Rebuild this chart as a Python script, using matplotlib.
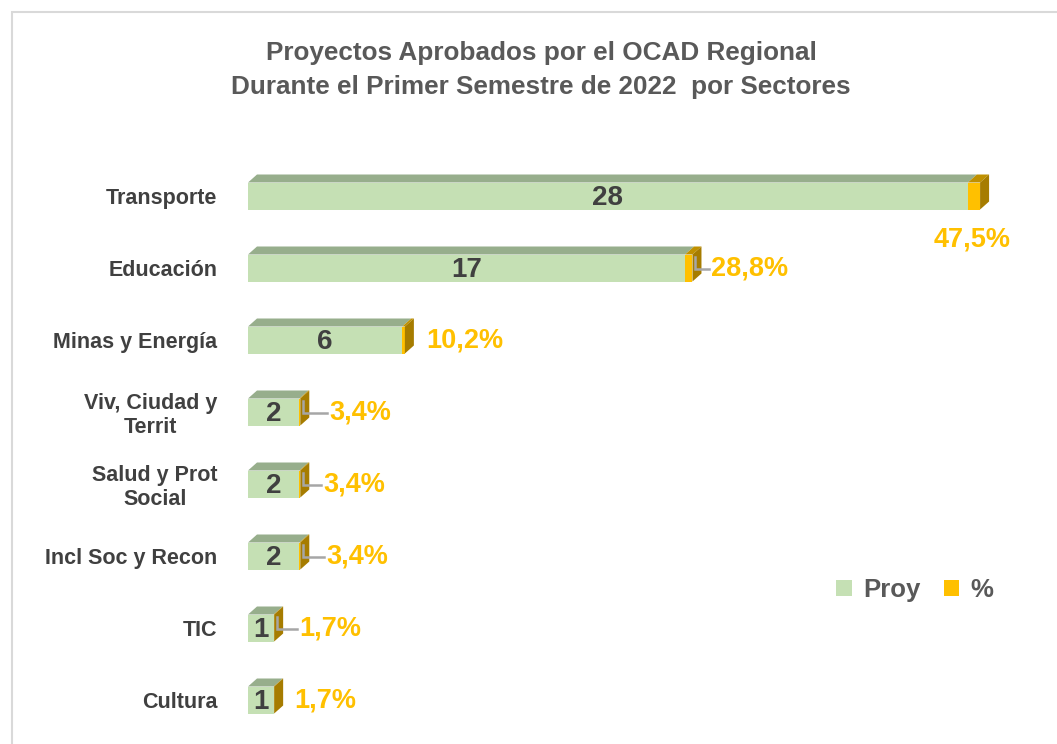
import matplotlib
matplotlib.use('Agg')
import matplotlib.pyplot as plt
from matplotlib.patches import Polygon, Rectangle, Patch
from matplotlib import font_manager

categories = ['Transporte', 'Educación', 'Minas y Energía', 'Viv, Ciudad y\nTerrit',
              'Salud y Prot\nSocial', 'Incl Soc y Recon', 'TIC', 'Cultura']
proy = [28, 17, 6, 2, 2, 2, 1, 1]
pct = [47.5, 28.8, 10.2, 3.4, 3.4, 3.4, 1.7, 1.7]
title = 'Proyectos Aprobados por el OCAD Regional\nDurante el Primer Semestre de 2022  por Sectores'

names = {f.name for f in font_manager.fontManager.ttflist}
FONT = 'Liberation Sans Narrow' if 'Liberation Sans Narrow' in names else 'Liberation Sans'
plt.rcParams['font.family'] = [FONT, 'DejaVu Sans']

GREEN = '#C5E0B4'
GREEN_TOP = '#97AE8C'
ORANGE = '#FFC000'
ORANGE_TOP = '#BF9000'
ORANGE_SIDE = '#A67C00'
DARK = '#404040'
GRAY = '#595959'

W, H = 1057, 744
fig = plt.figure(figsize=(W / 100, H / 100), dpi=100)

# frame
fig.patches.append(Rectangle((12 / W, -0.05), 1.2, 1 - 12 / H + 0.05, transform=fig.transFigure,
                             fill=False, edgecolor='#D9D9D9', linewidth=1.5))

ax_left, ax_right, ax_top, ax_bot = 248, 1045, 160, 736
ax = fig.add_axes([ax_left / W, 1 - ax_bot / H, (ax_right - ax_left) / W, (ax_bot - ax_top) / H])
XMAX = 31
n = len(categories)
ax.set_xlim(0, XMAX)
ax.set_ylim(n - 0.5, -0.5)
ppx = (ax_right - ax_left) / XMAX
ppy = (ax_bot - ax_top) / n
dx = 9 / ppx
dy = 8 / ppy
h = 27 / ppy

seg = [p / 100 for p in pct]
ax.barh(range(n), proy, height=h, color=GREEN, zorder=2)
ax.barh(range(n), seg, left=proy, height=h, color=ORANGE, zorder=2)

label_gap_px = [0, 10, 12, 20, 14, 17, 16, 11]
leader = [False, True, False, True, True, True, True, False]

for i in range(n):
    x1 = proy[i]
    x2 = proy[i] + seg[i]
    top = i - h / 2
    bot = i + h / 2
    ax.add_patch(Polygon([(0, top), (x1, top), (x1 + dx, top - dy), (dx, top - dy)],
                         closed=True, facecolor=GREEN_TOP, edgecolor='none', zorder=2))
    ax.add_patch(Polygon([(x1, top), (x2, top), (x2 + dx, top - dy), (x1 + dx, top - dy)],
                         closed=True, facecolor=ORANGE_TOP, edgecolor='none', zorder=2))
    ax.add_patch(Polygon([(x2, top), (x2 + dx, top - dy), (x2 + dx, bot - dy), (x2, bot)],
                         closed=True, facecolor=ORANGE_SIDE, edgecolor='none', zorder=2))
    ax.text(x1 / 2, i + 0.03, str(proy[i]), ha='center', va='center', fontsize=20,
            fontweight='bold', color=DARK, zorder=3)
    lab = f'{pct[i]:.1f}%'.replace('.', ',')
    if i == 0:
        ax.text(x2 - 0.3, i + 0.6, lab, ha='center', va='center', fontsize=19.5,
                fontweight='bold', color=ORANGE, zorder=3)
    else:
        lx = x2 + dx + label_gap_px[i] / ppx
        ax.text(lx, i + 0.01, lab, ha='left', va='center', fontsize=19.5,
                fontweight='bold', color=ORANGE, zorder=3)
        if leader[i]:
            vx = x2 + dx * 0.3
            ax.plot([vx, vx, lx - 2 / ppx], [i - 0.15, i + 0.02, i + 0.02],
                    color='#A6A6A6', linewidth=1.8, zorder=4, solid_joinstyle='miter')

ax.set_yticks(range(n))
ax.set_yticklabels(categories, fontsize=15.5, fontweight='bold', color=DARK,
                   multialignment='center', linespacing=1.15)
for t in ax.get_yticklabels():
    t.set_y(t.get_position()[1])
ax.tick_params(axis='y', length=0, pad=22)
ax.set_xticks([])
for s in ax.spines.values():
    s.set_visible(False)
ax.patch.set_alpha(0)

fig.text(541 / W, 1 - 70 / H, title, ha='center', va='center', fontsize=18.8,
         fontweight='bold', color=GRAY, linespacing=1.55)

handles = [Patch(facecolor=GREEN, edgecolor='none', label='Proy'),
           Patch(facecolor=ORANGE, edgecolor='none', label='%')]
fig.legend(handles=handles, loc='center', bbox_to_anchor=(915 / W, 1 - 590 / H), ncol=2,
           frameon=False, handlelength=0.6, handleheight=0.6,
           handletextpad=0.45, columnspacing=0.9, labelcolor=GRAY,
           prop={'weight': 'bold', 'size': 18.5})

fig.savefig('out.png', dpi=100)
